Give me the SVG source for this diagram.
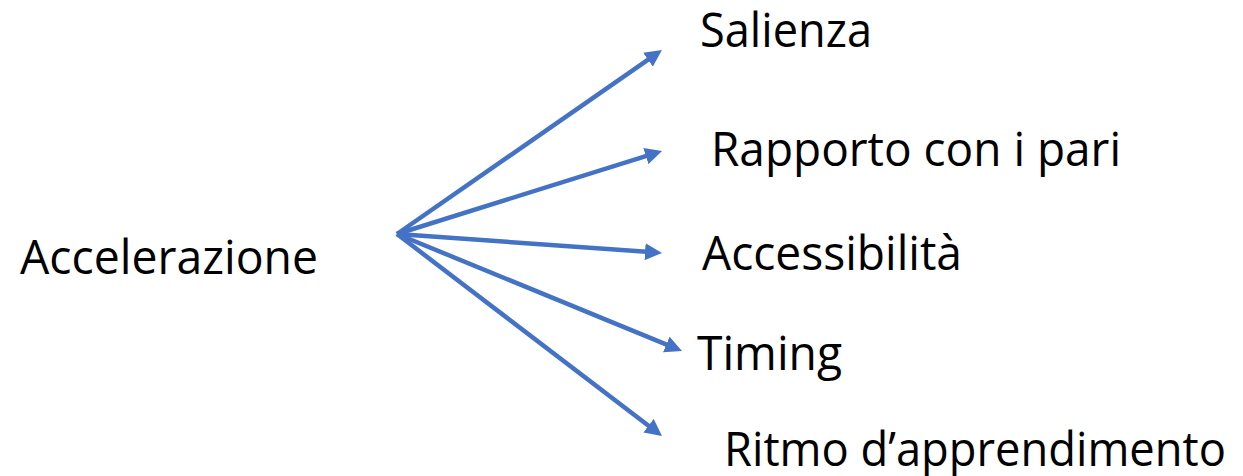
<svg xmlns="http://www.w3.org/2000/svg" width="1243" height="476" viewBox="0 0 1243 476">
<style>
.t{font-family:"Open Sans","Noto Sans",sans-serif;font-size:47px;fill:#000}
.c{stroke:#4472C4;stroke-width:4.5;fill:none;marker-end:url(#ah)}
</style>
<defs>
<marker id="ah" markerUnits="userSpaceOnUse" markerWidth="17" markerHeight="17" refX="5" refY="8.5" orient="auto" viewBox="0 0 17 17">
<path d="M0,0 L17,8.5 L0,17 z" fill="#4472C4"/>
</marker>
</defs>
<rect width="1243" height="476" fill="#fff"/>
<g id="connectors">
<line class="c" x1="397" y1="234" x2="652.1" y2="56.8"/>
<line class="c" x1="397" y1="234" x2="650.6" y2="154.6"/>
<line class="c" x1="397" y1="234" x2="650.0" y2="252.1"/>
<line class="c" x1="397" y1="234" x2="670.9" y2="346.4"/>
<line class="c" x1="397" y1="234" x2="652.5" y2="428.7"/>
</g>
<g id="accelerazione"><text class="t" x="20" y="274" textLength="298" lengthAdjust="spacingAndGlyphs">Accelerazione</text></g>
<g id="salienza"><text class="t" x="700" y="47" textLength="172" lengthAdjust="spacingAndGlyphs">Salienza</text></g>
<g id="rapporto"><text class="t" x="711" y="166" textLength="410" lengthAdjust="spacingAndGlyphs">Rapporto con i pari</text></g>
<g id="accessibilita"><text class="t" x="702" y="270" textLength="260" lengthAdjust="spacingAndGlyphs">Accessibilità</text></g>
<g id="timing"><text class="t" x="697" y="370" textLength="145" lengthAdjust="spacingAndGlyphs">Timing</text></g>
<g id="ritmo"><text class="t" x="724" y="466" textLength="502" lengthAdjust="spacingAndGlyphs">Ritmo d’apprendimento</text></g>
</svg>
